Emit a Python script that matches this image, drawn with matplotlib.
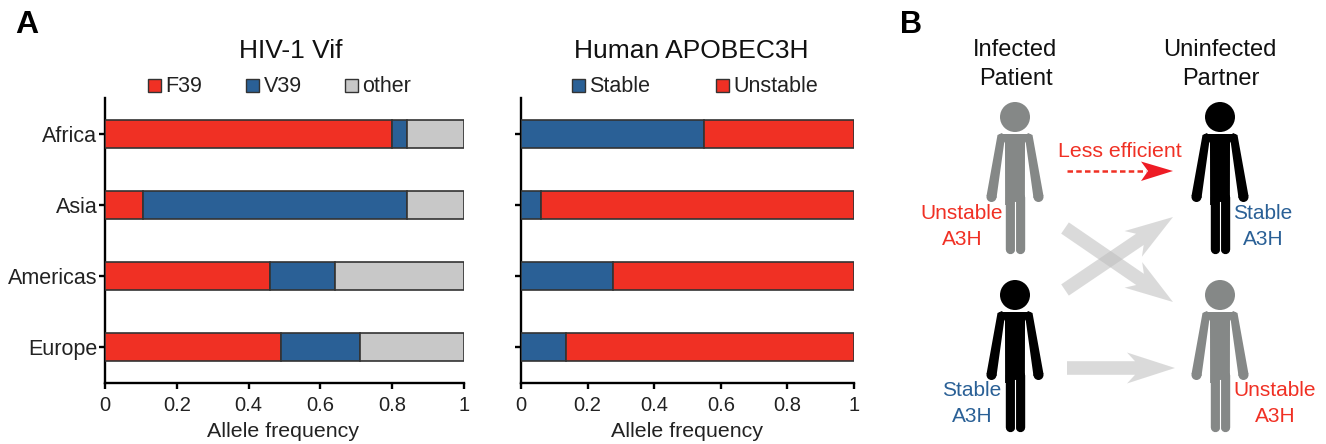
import numpy as np
import matplotlib
matplotlib.use("Agg")
import matplotlib.pyplot as plt
from matplotlib.patches import Polygon, Circle, Rectangle

plt.rcParams["font.family"] = ["Liberation Sans", "DejaVu Sans"]

W, H = 1326, 444

regions = ["Africa", "Asia", "Americas", "Europe"]
f39 = [0.80, 0.105, 0.46, 0.49]
v39 = [0.04, 0.735, 0.18, 0.22]
other = [0.16, 0.16, 0.36, 0.29]
stable = [0.55, 0.06, 0.275, 0.135]
unstable = [0.45, 0.94, 0.725, 0.865]
xticks = [0, 0.2, 0.4, 0.6, 0.8, 1]
xticklabels = ["0", "0.2", "0.4", "0.6", "0.8", "1"]

RED = "#F03024"
BLUE = "#2A6096"
GREY = "#C8C8C8"
EDGE = "#333333"
PERSON_GREY = "#858887"
ARROW_GREY = "#BDBDBD"


def px_axes(left, right, top, bottom):
    return fig.add_axes([left / W, 1 - bottom / H, (right - left) / W, (bottom - top) / H])


def stacked(ax, series, colors):
    y = np.arange(len(regions))
    start = np.zeros(len(regions))
    for vals, col in zip(series, colors):
        ax.barh(y, vals, left=start, height=0.4, color=col, edgecolor=EDGE, linewidth=1.2, zorder=3)
        start = start + np.array(vals)
    ax.set_xlim(0, 1)
    ax.set_ylim(3.5, -0.5)
    ax.set_yticks(y)
    ax.set_xticks(xticks)
    ax.set_xticklabels(xticklabels, fontsize=14.5, color="#222222")
    ax.set_xlabel("Allele frequency", fontsize=15.4, color="#222222", labelpad=5, x=0.497)
    ax.spines["top"].set_visible(False)
    ax.spines["right"].set_visible(False)
    ax.spines["left"].set_linewidth(1.7)
    ax.spines["bottom"].set_linewidth(1.7)
    ax.tick_params(axis="x", length=4, width=1.7, pad=6)
    ax.tick_params(axis="y", length=4, width=1.7, pad=1.5)
    ax.patch.set_alpha(0)


fig = plt.figure(figsize=(W / 100, H / 100), dpi=100)

ax1 = px_axes(105, 464, 98.5, 382.5)
stacked(ax1, [f39, v39, other], [RED, BLUE, GREY])
ax1.set_yticklabels(regions, fontsize=15.5, color="#222222")

ax2 = px_axes(521, 854, 98.5, 382.5)
stacked(ax2, [stable, unstable], [BLUE, RED])
ax2.set_yticklabels([])

# overlay in pixel coordinates for the legends and panel B
ov = fig.add_axes([0, 0, 1, 1], zorder=5)
ov.set_xlim(0, W)
ov.set_ylim(H, 0)
ov.axis("off")


def label(x, y, s, size, color="#111111", ha="center", weight="normal"):
    ov.text(x, y, s, fontsize=size, color=color, ha=ha, va="center", fontweight=weight)


def key(x, y, s, color):
    ov.add_patch(Rectangle((x, y - 6.5), 13, 13, facecolor=color, edgecolor=EDGE, linewidth=1))
    label(x + 17.5, y, s, 15.5, ha="left", color="#222222")


def lw(px):
    return px * 0.72


def person(cx, top, color):
    # top is the y of the head centre
    ov.add_patch(Circle((cx, top), 15, color=color, lw=0))
    ov.add_patch(Polygon([(cx - 16, top + 17), (cx + 16, top + 17), (cx + 10, top + 26),
                          (cx + 9.9, top + 88), (cx - 9.9, top + 88), (cx - 10, top + 26)],
                         closed=True, color=color, lw=0))
    for side in (-1, 1):
        ov.add_patch(Polygon([(cx + side * 10, top + 20), (cx + side * 13, top + 16),
                              (cx + side * 17.5, top + 18),
                              (cx + side * 28.5, top + 79), (cx + side * 18.5, top + 81)],
                             closed=True, color=color, lw=0))
        ov.add_patch(Circle((cx + side * 23.5, top + 80), 5, color=color, lw=0))
        ov.plot([cx + side * 5, cx + side * 5], [top + 80, top + 131.5], color=color,
                lw=lw(9.4), solid_capstyle="round")
    ov.plot([cx, cx], [top + 85, top + 136], color="white", lw=lw(1.1), zorder=3)


def arrow_poly(x0, y0, x1, y1, half, head_len, notch, barb):
    d = np.array([x1 - x0, y1 - y0], dtype=float)
    length = np.hypot(*d)
    d = d / length
    n = np.array([-d[1], d[0]])
    p0 = np.array([x0, y0])
    p1 = np.array([x1, y1])
    back = p1 - d * head_len
    neck = p1 - d * notch
    return [p0 + n * half, neck + n * half, back + n * barb, p1, back - n * barb, neck - n * half, p0 - n * half]


label(27, 25, "A", 23, color="black", weight="bold")
label(911, 25, "B", 22, color="black", weight="bold")
label(291, 51, "HIV-1 Vif", 19)
label(691, 51, "Human APOBEC3H", 19)

key(148, 86, "F39", RED)
key(246, 86, "V39", BLUE)
key(345, 86, "other", GREY)
key(572, 86, "Stable", BLUE)
key(716, 86, "Unstable", RED)

label(1015, 50, "Infected", 17)
label(1016, 79, "Patient", 17)
label(1220, 50, "Uninfected", 17)
label(1221, 79, "Partner", 17)

for x0, y0, x1, y1 in [(1065, 290, 1173, 217), (1065, 228, 1173, 302), (1067, 368, 1175, 368)]:
    ov.add_patch(Polygon(arrow_poly(x0, y0, x1, y1, 6.8, 48, 40, 15.5), closed=True,
                         facecolor=ARROW_GREY, edgecolor="none", alpha=0.55))

person(1015, 117, PERSON_GREY)
person(1220, 117, "black")
person(1015, 295, "black")
person(1220, 295, PERSON_GREY)

label(1120, 151, "Less efficient", 15.3, color=RED)
ov.plot([1067, 1146], [171, 171], color=RED, lw=1.8, dashes=(2.2, 1.3))
ov.add_patch(Polygon([(1173, 171), (1141, 161.5), (1148, 171), (1141, 181)], closed=True, color="#EE1C25", lw=0))

label(962, 213, "Unstable", 15, color=RED)
label(962, 239, "A3H", 15, color=RED)
label(1263, 213, "Stable", 15, color=BLUE)
label(1263, 239, "A3H", 15, color=BLUE)
label(972, 390, "Stable", 15, color=BLUE)
label(972, 416, "A3H", 15, color=BLUE)
label(1275, 390, "Unstable", 15, color=RED)
label(1275, 416, "A3H", 15, color=RED)

fig.savefig("out.png", dpi=100)
